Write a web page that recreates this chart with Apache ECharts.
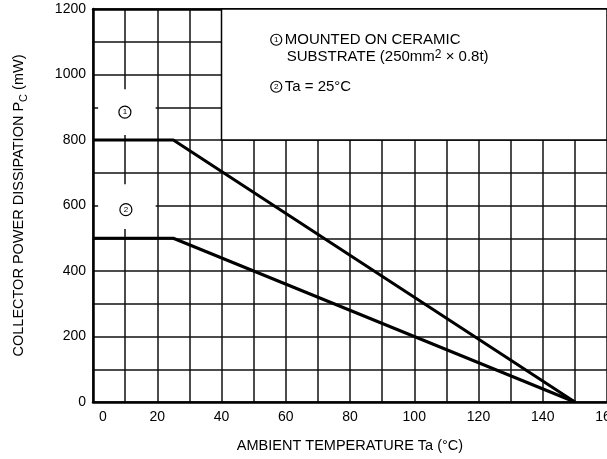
<!DOCTYPE html>
<html>
<head>
<meta charset="utf-8">
<script src="https://cdn.jsdelivr.net/npm/echarts@6/dist/echarts.min.js"></script>
<style>
  html, body { margin: 0; padding: 0; background: #fff; }
  #container { width: 607px; height: 459px; }
</style>
</head>
<body>
<div id="container"></div>
<script>
// derating curves
var ceramicCurve = [[0, 800], [25, 800], [150, 0]];   // (1) on ceramic substrate
var freeAirCurve = [[0, 500], [25, 500], [150, 0]];   // (2) Ta = 25 C
var xTicks = [0, 20, 40, 60, 80, 100, 120, 140, 160];
var yTicks = [0, 200, 400, 600, 800, 1000, 1200];

var font = "'Liberation Sans', Arial, sans-serif";

// circled number: rich-text fragment with a round border
function circled(size, fs) {
    var digitW = fs * 0.556;
    var side = (size - digitW) / 2;
    return {
        fontSize: fs, fontFamily: font, color: '#000',
        height: size, lineHeight: size, padding: [0, side, 0, side],
        borderColor: '#000', borderWidth: 1.2, borderRadius: size / 2
    };
}

var dom = document.getElementById("container");
var myChart = echarts.init(dom);
var option = null;

option = {
    backgroundColor: '#fff',
    animation: false,
    textStyle: { fontFamily: font, color: '#000' },
    grid: { left: 93, right: 0, top: 9, bottom: 57, containLabel: false, outerBoundsMode: 'none' },
    xAxis: [
        {
            type: 'value',
            min: 0,
            max: 160,
            interval: 10,
            name: 'AMBIENT TEMPERATURE Ta (°C)',
            nameLocation: 'middle',
            nameGap: 36,
            nameTextStyle: { fontSize: 14.5, color: '#000', fontFamily: font },
            axisLine: { lineStyle: { color: '#000', width: 2.5 } },
            axisTick: { show: false },
            axisLabel: {
                fontSize: 14, color: '#000', margin: 8, fontFamily: font,
                formatter: function (v) {
                    if (v === 0) return '{z|0}';
                    return xTicks.indexOf(v) >= 0 ? String(v) : '';
                },
                rich: { z: { fontSize: 14, fontFamily: font, color: '#000', padding: [0, 0, 0, 20] } }
            },
            splitLine: { show: true, lineStyle: { color: '#111', width: 1.5 } }
        },
        {
            type: 'value',
            position: 'top',
            min: 0,
            max: 160,
            axisLine: { show: true, lineStyle: { color: '#000', width: 2.5 } },
            axisTick: { show: false },
            axisLabel: { show: false },
            splitLine: { show: false }
        }
    ],
    yAxis: {
        type: 'value',
        min: 0,
        max: 1200,
        interval: 100,
        name: '{n|COLLECTOR POWER DISSIPATION P}{sub|C}{n| (mW)}',
        nameLocation: 'middle',
        nameGap: 64,
        nameTextStyle: {
            rich: {
                n: { fontSize: 14.5, color: '#000', fontFamily: font, lineHeight: 20, verticalAlign: 'middle' },
                sub: { fontSize: 11, color: '#000', fontFamily: font, lineHeight: 20, verticalAlign: 'bottom', padding: [7, 0, 0, 0] }
            }
        },
        axisLine: { show: true, lineStyle: { color: '#000', width: 2.5 } },
        axisTick: { show: false },
        axisLabel: {
            fontSize: 14, color: '#000', margin: 7, fontFamily: font,
            formatter: function (v) { return yTicks.indexOf(v) >= 0 ? String(v) : ''; }
        },
        splitLine: { show: true, lineStyle: { color: '#111', width: 1.5 } }
    },
    series: [
        {
            // blank panels: legend box and the two curve markers
            name: 'notes',
            type: 'line',
            data: [],
            z: 1,
            markArea: {
                silent: true,
                data: [
                    [
                        {
                            xAxis: 40, yAxis: 800,
                            itemStyle: { color: '#fff', borderColor: '#000', borderWidth: 1.5 },
                            label: {
                                show: true,
                                position: 'insideTopLeft',
                                distance: 0,
                                padding: [23, 0, 0, 50],
                                formatter: '{c|1}{s|}{t|MOUNTED ON CERAMIC}\n{i|}{t|SUBSTRATE (250mm}{sup|2}{t| × 0.8t)}\n{g|}\n{c|2}{s|}{t|Ta = 25°C}',
                                rich: {
                                    c: circled(11, 8),
                                    s: { width: 3 },
                                    t: { fontSize: 15, color: '#000', fontFamily: font, lineHeight: 17 },
                                    i: { width: 16, lineHeight: 17 },
                                    sup: { fontSize: 12, color: '#000', fontFamily: font, lineHeight: 7, verticalAlign: 'top' },
                                    g: { lineHeight: 13 }
                                }
                            }
                        },
                        { xAxis: 160, yAxis: 1200 }
                    ],
                    [
                        {
                            xAxis: 1.6, yAxis: 815,
                            itemStyle: { color: '#fff', borderWidth: 0 },
                            label: {
                                show: true, position: 'inside', offset: [-2, 0],
                                formatter: '{c|1}', rich: { c: circled(12, 8) }
                            }
                        },
                        { xAxis: 19.5, yAxis: 955 }
                    ],
                    [
                        {
                            xAxis: 1.6, yAxis: 528,
                            itemStyle: { color: '#fff', borderWidth: 0 },
                            label: {
                                show: true, position: 'inside', offset: [-1, 3],
                                formatter: '{c|2}', rich: { c: circled(12, 8) }
                            }
                        },
                        { xAxis: 19.5, yAxis: 665 }
                    ]
                ]
            }
        },
        {
            name: 'ceramic',
            type: 'line',
            data: ceramicCurve,
            z: 5,
            symbol: 'none',
            lineStyle: { color: '#000', width: 3 }
        },
        {
            name: 'free air',
            type: 'line',
            data: freeAirCurve,
            z: 5,
            symbol: 'none',
            lineStyle: { color: '#000', width: 3 }
        }
    ]
};

if (option && typeof option === "object") {
    myChart.setOption(option, true);
}
</script>
</body>
</html>
